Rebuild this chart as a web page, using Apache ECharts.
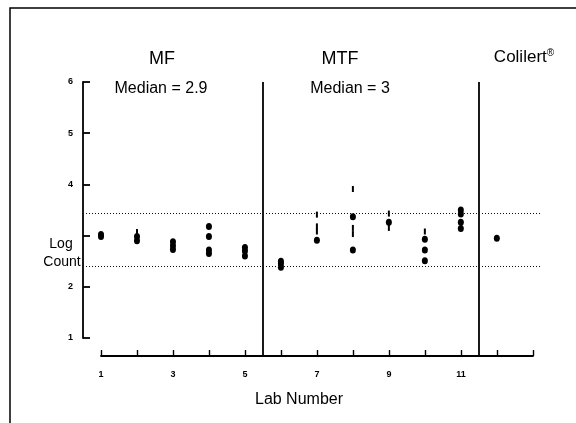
<!DOCTYPE html>
<html lang="en">
<head>
    <meta charset="UTF-8">
    <title>Log Count by Lab</title>
    <script src="https://cdn.jsdelivr.net/npm/echarts@6/dist/echarts.min.js"></script>
    <style>
        html, body { margin: 0; padding: 0; background: #fff; }
        #container { width: 576px; height: 423px; }
    </style>
</head>
<body>
<div id="container"></div>
<script>
    // lab numbers on the x axis
    var labNumbers = [1, 2, 3, 4, 5, 6, 7, 8, 9, 10, 11, 12];
    // solid dots, log count per lab
    var solidCounts = [
        [3.02, 2.98],
        [2.98, 2.9],
        [2.88, 2.8, 2.73],
        [3.18, 2.98, 2.72, 2.65],
        [2.77, 2.7, 2.6],
        [2.5, 2.45, 2.38],
        [2.91],
        [3.37, 2.72],
        [3.26],
        [2.93, 2.72, 2.51],
        [3.5, 3.42, 3.26, 3.14],
        [2.95]
    ];
    // faint (half printed) marks
    var faintCounts = [
        [], [3.07], [], [], [], [],
        [3.41, 3.18, 3.08],
        [3.91, 3.15, 3.03],
        [3.43, 3.15],
        [3.08],
        [], []
    ];
    var dividerLabs = [5.5, 11.5];
    var refLevels = [3.43, 2.41];
    var yTickLabels = ['1', '2', '', '4', '5', '6'];
    var xTickLabels = ['1', '', '3', '', '5', '', '7', '', '9', '', '11', '', ''];

    var solidData = [];
    var faintData = [];
    for (var i = 0; i < labNumbers.length; i++) {
        for (var j = 0; j < solidCounts[i].length; j++) {
            solidData.push([labNumbers[i], solidCounts[i][j]]);
        }
        for (var k = 0; k < faintCounts[i].length; k++) {
            faintData.push([labNumbers[i], faintCounts[i][k]]);
        }
    }

    var lines = [];
    for (var d = 0; d < dividerLabs.length; d++) {
        lines.push({xAxis: dividerLabs[d], lineStyle: {type: 'solid', width: 1.8, color: '#000'}});
    }
    for (var r = 0; r < refLevels.length; r++) {
        lines.push({yAxis: refLevels[r], lineStyle: {type: [1, 2], width: 1.2, color: '#111'}});
    }

    var font = '"Liberation Sans", Arial, sans-serif';
    var myChart = echarts.init(document.getElementById('container'));
    var option = {
        animation: false,
        backgroundColor: '#fff',
        grid: [
            {left: 83, right: 36, top: 82, bottom: 67},
            {left: 83, right: 36, top: 82, bottom: 85},
            {left: 101, right: 43, top: 82, bottom: 67}
        ],
        xAxis: [
            {gridIndex: 0, type: 'value', min: 0.5, max: 13.2, show: false},
            {gridIndex: 1, type: 'value', min: 0, max: 1, show: false},
            {
                gridIndex: 2, type: 'value', min: 1, max: 13, interval: 1,
                axisLine: {lineStyle: {color: '#000', width: 1.8}},
                axisTick: {inside: true, length: 6, lineStyle: {color: '#000', width: 1.4}},
                splitLine: {show: false},
                axisLabel: {
                    margin: 14, color: '#000', fontSize: 9, fontWeight: 'bold', fontFamily: font,
                    formatter: function (v) { return xTickLabels[v - 1] || ''; }
                }
            }
        ],
        yAxis: [
            {gridIndex: 0, type: 'value', min: 1 - 18 / 51.2, max: 6, show: false},
            {
                gridIndex: 1, type: 'value', min: 1, max: 6, interval: 1,
                axisLine: {show: true, lineStyle: {color: '#000', width: 1.8}},
                axisTick: {show: true, inside: true, length: 7, lineStyle: {color: '#000', width: 1.8}},
                splitLine: {show: false},
                axisLabel: {
                    margin: 10, color: '#000', fontSize: 9, fontWeight: 'bold', fontFamily: font,
                    formatter: function (v) { return yTickLabels[v - 1] || ''; }
                }
            },
            {gridIndex: 2, type: 'value', min: 0, max: 1, show: false}
        ],
        series: [
            {
                type: 'scatter', xAxisIndex: 0, yAxisIndex: 0,
                data: solidData, symbol: 'circle', symbolSize: [6, 7],
                itemStyle: {color: '#000', opacity: 1},
                markLine: {silent: true, symbol: 'none', label: {show: false}, data: lines}
            },
            {
                type: 'scatter', xAxisIndex: 0, yAxisIndex: 0,
                data: faintData, symbol: 'rect', symbolSize: [2, 6],
                itemStyle: {color: '#000', opacity: 1}
            }
        ],
        graphic: [
            {type: 'polyline', shape: {points: [[10, 423], [10, 8], [576, 8]]},
                style: {stroke: '#000', lineWidth: 1.5, fill: null}},
            {type: 'text', x: 162, y: 59, style: {text: 'MF', font: '18px ' + font, fill: '#000', textAlign: 'center', textVerticalAlign: 'middle'}},
            {type: 'text', x: 340, y: 59, style: {text: 'MTF', font: '18px ' + font, fill: '#000', textAlign: 'center', textVerticalAlign: 'middle'}},
            {type: 'text', x: 524, y: 57, style: {
                text: 'Colilert{s|®}', font: '17px ' + font, fill: '#000', textAlign: 'center', textVerticalAlign: 'middle',
                rich: {s: {fontSize: 10, verticalAlign: 'top', padding: [0, 0, 8, 0]}}}},
            {type: 'text', x: 161, y: 89, style: {text: 'Median = 2.9', font: '16px ' + font, fill: '#000', textAlign: 'center', textVerticalAlign: 'middle'}},
            {type: 'text', x: 350, y: 89, style: {text: 'Median = 3', font: '16px ' + font, fill: '#000', textAlign: 'center', textVerticalAlign: 'middle'}},
            {type: 'text', x: 61, y: 244, style: {text: 'Log', font: '14px ' + font, fill: '#000', textAlign: 'center', textVerticalAlign: 'middle'}},
            {type: 'text', x: 62, y: 262, style: {text: 'Count', font: '14px ' + font, fill: '#000', textAlign: 'center', textVerticalAlign: 'middle'}},
            {type: 'text', x: 299, y: 400, style: {text: 'Lab Number', font: '16px ' + font, fill: '#000', textAlign: 'center', textVerticalAlign: 'middle'}}
        ]
    };
    myChart.setOption(option, true);
</script>
</body>
</html>
